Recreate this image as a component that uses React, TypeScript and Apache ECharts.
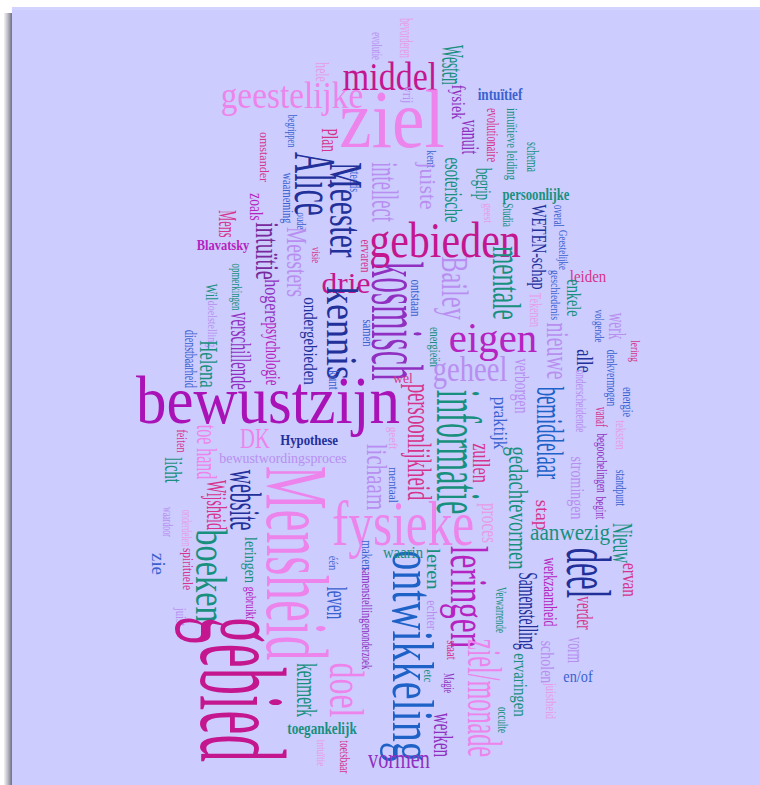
import React, { useEffect, useRef } from "react";
import * as echarts from "echarts";

// Each word: [text, x, y, length along text, font size, vertical(1) / horizontal(0), colour key]
const topWords: [string, number, number, number, number, number, string][] = [
  ["bevorderen", 406, 38, 40, 19, 1, "pinkLight"],
  ["evolutie", 377, 46, 28, 15, 1, "lilac"],
  ["Westen", 452, 65, 40, 31, 1, "teal"],
  ["hele", 323, 72, 19, 19, 1, "pinkLight"],
  ["middel", 390, 76, 94, 41, 0, "magenta"],
  ["ziel", 392, 120, 103, 82, 0, "pink"],
  ["geestelijke", 292, 95, 141, 38, 0, "pink"],
  ["vrij", 408, 95, 16, 15, 1, "lilac"],
  ["fysiek", 458, 102, 35, 19, 1, "purple"],
  ["vanuit", 471, 137, 35, 26, 1, "purple"],
  ["intuïtief", 500, 94, 45, 17, 0, "mblue"],
  ["evolutionaire", 492, 135, 54, 16, 1, "rose"],
  ["intuïtieve leiding", 512, 144, 72, 14, 1, "teal"],
  ["schema", 532, 157, 30, 16, 1, "teal"],
  ["begrip", 484, 184, 32, 24, 1, "teal"],
  ["persoonlijke", 536, 194, 67, 16, 0, "teal"],
  ["esoterische", 454, 190, 65, 25, 1, "teal"],
  ["kent", 431, 159, 18, 12, 1, "mblue"],
  ["juiste", 428, 186, 48, 23, 1, "lilac"],
  ["intellect", 385, 192, 60, 38, 1, "lilac"],
  ["steeds", 355, 180, 24, 15, 1, "mblue"],
  ["Plan", 330, 140, 24, 23, 1, "rose"],
  ["begrippen", 293, 131, 33, 13, 1, "mblue"],
  ["omstander", 264, 157, 50, 12, 1, "rose"],
];

const upperWords: [string, number, number, number, number, number, string][] = [
  ["Alice", 315, 184, 63, 60, 1, "navy"],
  ["Meester", 346, 210, 95, 47, 1, "navy"],
  ["waarneming", 288, 198, 51, 15, 1, "mblue"],
  ["oude", 302, 221, 17, 13, 1, "mblue"],
  ["visie", 316, 255, 16, 12, 1, "rose"],
  ["ervaren", 365, 256, 33, 14, 1, "rose"],
  ["intuïtie", 268, 251, 57, 34, 1, "dpurple"],
  ["hogere", 272, 301, 43, 22, 1, "purple"],
  ["psychologie", 273, 354, 63, 20, 1, "violet"],
  ["Meesters", 297, 262, 70, 29, 1, "lilac"],
  ["ondergebieden", 310, 341, 88, 19, 1, "navy"],
  ["kosmisch", 397, 321, 118, 75, 1, "purple"],
  ["gebieden", 445, 240, 150, 50, 0, "magenta"],
  ["Bailey", 454, 288, 63, 38, 1, "lilac"],
  ["mentale", 506, 283, 73, 40, 1, "teal"],
  ["WETEN-schap", 539, 247, 85, 22, 1, "navy"],
  ["geest", 489, 213, 20, 13, 1, "pinkLight"],
  ["Studia", 508, 215, 24, 14, 1, "teal"],
  ["overal", 558, 216, 22, 14, 1, "mblue"],
  ["Geestelijke", 564, 250, 40, 13, 1, "mblue"],
  ["geschiedenis", 556, 295, 50, 13, 1, "mblue"],
  ["leiden", 588, 276, 37, 17, 0, "rose"],
  ["enkele", 575, 298, 37, 22, 1, "teal"],
  ["volgende", 599, 326, 33, 12, 1, "mblue"],
  ["werk", 618, 326, 27, 25, 1, "lilac"],
  ["denkvermogen", 612, 378, 57, 15, 1, "mblue"],
  ["lering", 636, 351, 22, 13, 1, "rose"],
  ["alle", 585, 361, 23, 24, 1, "navy"],
  ["nieuwe", 558, 351, 57, 32, 1, "lilac"],
  ["Tekenen", 535, 310, 34, 16, 1, "pinkLight"],
  ["ontstaan", 415, 298, 37, 14, 1, "mblue"],
  ["energieën", 435, 347, 40, 14, 1, "teal"],
  ["eigen", 493, 338, 87, 43, 0, "violet"],
  ["geheel", 470, 369, 74, 36, 0, "lilac"],
  ["verborgen", 522, 386, 55, 22, 1, "lilac"],
  ["drie", 346, 283, 47, 29, 0, "magenta"],
  ["kennis", 342, 333, 93, 44, 1, "navy"],
  ["samen", 368, 333, 27, 14, 1, "mblue"],
  ["zoals", 256, 207, 27, 19, 1, "violet"],
  ["Mens", 228, 224, 27, 25, 1, "rose"],
  ["Blavatsky", 223, 245, 53, 15, 0, "violet"],
  ["opmerkingen", 236, 287, 47, 14, 1, "teal"],
  ["Wil", 211, 292, 17, 16, 1, "teal"],
  ["doelstelling", 212, 324, 47, 13, 1, "lilac"],
  ["dienstbaarheid", 190, 359, 58, 16, 1, "mblue"],
  ["Helena", 209, 364, 48, 26, 1, "teal"],
  ["verschillende", 240, 351, 77, 29, 1, "purple"],
];

const middleWords: [string, number, number, number, number, number, string][] = [
  ["bewustzijn", 268, 400, 263, 68, 0, "purpleMag"],
  ["kunt", 333, 380, 20, 14, 1, "mblue"],
  ["DK", 255, 438, 30, 30, 0, "pink"],
  ["Hypothese", 309, 440, 58, 15, 0, "navy"],
  ["toe hand", 207, 452, 55, 29, 1, "pink"],
  ["feiten", 182, 441, 23, 14, 1, "rose"],
  ["licht", 174, 470, 26, 26, 1, "teal"],
  ["bewustwordingsproces", 283, 458, 127, 14, 0, "lilac"],
  ["Wijsheid", 217, 505, 50, 30, 1, "rose"],
  ["website", 245, 500, 60, 44, 1, "navy"],
  ["waardoor", 168, 522, 30, 14, 1, "lilac"],
  ["onderdelen", 187, 528, 37, 15, 1, "pinkLight"],
  ["boeken", 212, 576, 93, 45, 1, "teal"],
  ["Mensheid", 297, 563, 193, 88, 1, "pink"],
  ["fysieke", 403, 524, 140, 63, 0, "pink"],
  ["lichaam", 377, 477, 67, 29, 1, "lilac"],
  ["persoonlijkheid", 419, 442, 117, 33, 1, "rose"],
  ["informatie", 458, 452, 123, 63, 1, "teal"],
  ["praktijk", 500, 423, 53, 19, 1, "mblue"],
  ["zullen", 481, 463, 40, 25, 1, "rose"],
  ["gedachtevormen", 518, 508, 123, 27, 1, "teal"],
  ["bemiddelaar", 550, 433, 93, 38, 1, "blue"],
  ["stap", 543, 515, 30, 19, 1, "rose"],
  ["proces", 490, 523, 40, 24, 1, "pinkLight"],
  ["aanwezig", 570, 532, 80, 24, 0, "teal"],
  ["Nieuw", 623, 543, 40, 29, 1, "teal"],
  ["stromingen", 577, 488, 63, 18, 1, "lilac"],
  ["begoochelingen", 602, 463, 60, 15, 1, "purple"],
  ["vanaf", 602, 417, 20, 17, 1, "rose"],
  ["onderscheidende", 581, 401, 63, 15, 1, "lilac"],
  ["energie", 628, 402, 30, 14, 1, "mblue"],
  ["teksten", 621, 435, 30, 15, 1, "pinkLight"],
  ["standpunt", 621, 488, 37, 15, 1, "mblue"],
  ["begint", 601, 508, 23, 15, 1, "purple"],
  ["wel", 403, 378, 20, 14, 0, "rose"],
  ["geeft", 393, 438, 23, 13, 1, "pinkLight"],
  ["mentaal", 393, 485, 36, 13, 1, "mblue"],
];

const lowerWords: [string, number, number, number, number, number, string][] = [
  ["ervan", 630, 580, 34, 20, 1, "rose"],
  ["werkzaamheid", 550, 592, 69, 18, 1, "violet"],
  ["deel", 588, 573, 49, 63, 1, "navy"],
  ["verder", 585, 613, 33, 23, 1, "rose"],
  ["vorm", 576, 650, 26, 24, 1, "lilac"],
  ["en/of", 578, 676, 30, 16, 0, "mblue"],
  ["scholen", 547, 662, 43, 19, 1, "lilac"],
  ["juistheid", 551, 701, 37, 14, 1, "pinkLight"],
  ["Samenstelling", 528, 611, 77, 27, 1, "navy"],
  ["ervaringen", 520, 685, 64, 19, 1, "teal"],
  ["occulte", 503, 720, 26, 15, 1, "teal"],
  ["Verwarrende", 501, 610, 46, 15, 1, "teal"],
  ["leringen", 469, 597, 102, 52, 1, "violet"],
  ["ziel/monade", 484, 698, 117, 48, 1, "pink"],
  ["ontwikkeling", 413, 656, 210, 59, 1, "blue"],
  ["leren", 434, 569, 42, 19, 1, "teal"],
  ["echter", 432, 615, 30, 14, 1, "lilac"],
  ["staat", 452, 650, 20, 15, 1, "rose"],
  ["etc", 428, 676, 13, 13, 1, "teal"],
  ["Magie", 449, 683, 20, 14, 1, "purple"],
  ["werken", 443, 735, 44, 28, 1, "purple"],
  ["vormen", 399, 758, 62, 28, 0, "purple"],
  ["toetsbaar", 345, 757, 33, 14, 1, "rose"],
  ["intuïtie", 322, 753, 27, 13, 1, "pinkLight"],
  ["toegankelijk", 322, 728, 70, 17, 0, "teal"],
  ["kenmerk", 307, 690, 54, 29, 1, "teal"],
  ["onderzoek", 367, 651, 37, 15, 1, "purple"],
  ["samenstellingen", 367, 600, 66, 14, 1, "purple"],
  ["leven", 337, 603, 33, 29, 1, "mblue"],
  ["één", 333, 563, 15, 13, 1, "mblue"],
  ["maken", 367, 555, 30, 15, 1, "mblue"],
  ["waarin", 403, 552, 40, 16, 0, "teal"],
  ["gebruikt", 251, 603, 33, 15, 1, "violet"],
  ["leringen", 250, 560, 46, 16, 1, "teal"],
  ["spirituele", 187, 569, 42, 14, 1, "rose"],
  ["zie", 158, 564, 22, 18, 1, "mblue"],
  ["juist", 181, 617, 20, 15, 1, "lilac"],
  ["gebied", 242, 689, 143, 122, 1, "magenta"],
  ["doel", 346, 690, 54, 48, 1, "pink"],
];

const boldWords = ["intuïtief", "persoonlijke", "Hypothese", "Blavatsky", "toegankelijk"];

const palette: Record<string, string> = {
  magenta: "#c4168f",
  purpleMag: "#a912b6",
  violet: "#b523c0",
  pink: "#ec84ec",
  pinkLight: "#e89be6",
  lilac: "#b88ff0",
  navy: "#22309a",
  blue: "#1e62c8",
  mblue: "#3a62cf",
  teal: "#18907d",
  rose: "#d6348c",
  purple: "#9030c0",
  dpurple: "#772a9c",
};

const FONT = '"Liberation Serif", "DejaVu Serif", serif';

let measureCtx: CanvasRenderingContext2D | null = null;
function inkWidth(text: string, size: number, weight: string): number {
  if (!measureCtx) measureCtx = document.createElement("canvas").getContext("2d");
  if (!measureCtx) return text.length * size * 0.5;
  measureCtx.font = `${weight} ${size}px ${FONT}`;
  const m = measureCtx.measureText(text);
  const ink = (m.actualBoundingBoxLeft || 0) + (m.actualBoundingBoxRight || 0);
  return ink > 0 ? ink : m.width;
}

export default function App() {
  const ref = useRef<HTMLDivElement>(null);

  useEffect(() => {
    if (!ref.current) return;
    const chart = echarts.init(ref.current, null, { renderer: "svg" });
    const allWords = [...topWords, ...upperWords, ...middleWords, ...lowerWords];

    chart.setOption({
      animation: false,
      backgroundColor: "transparent",
      grid: { left: 0, right: 0, top: 0, bottom: 0 },
      xAxis: { type: "value", min: 0, max: 760, show: false },
      yAxis: { type: "value", min: 0, max: 785, inverse: true, show: false },
      series: [
        {
          type: "custom",
          coordinateSystem: "cartesian2d",
          clip: false,
          silent: true,
          data: allWords.map((w) => [w[1], w[2], w[3], w[4]]),
          encode: { x: 0, y: 1 },
          renderItem: (params: any, api: any) => {
            const w = allWords[params.dataIndex];
            const text = w[0];
            const vertical = w[5] === 1;
            const p = api.coord([api.value(0), api.value(1)]);
            const sz = api.size([api.value(2), api.value(2)]);
            const lenPx = vertical ? sz[1] : sz[0];
            const fontSize = api.value(3);
            const weight = boldWords.includes(text) ? "bold" : "normal";
            const natural = inkWidth(text, fontSize, weight);
            const scale = lenPx / natural;
            return {
              type: "text",
              x: p[0],
              y: p[1],
              rotation: vertical ? -Math.PI / 2 : 0,
              scaleX: scale,
              scaleY: 1,
              style: {
                text,
                x: 0,
                y: 0,
                fill: palette[w[6]],
                fontSize,
                fontFamily: FONT,
                fontWeight: weight,
                align: "center",
                verticalAlign: "middle",
              },
            };
          },
        },
      ],
    });
    return () => chart.dispose();
  }, []);

  return (
    <div style={{ position: "fixed", left: 0, top: 0, width: 760, height: 785, background: "#ffffff", overflow: "hidden" }}>
      <div
        style={{
          position: "absolute",
          left: 4,
          top: 13,
          width: 8,
          bottom: 0,
          background: "linear-gradient(to right, #f4f4f6, #b8b8c4 50%, #6e6e80)",
        }}
      />
      <div style={{ position: "absolute", left: 12, top: 7, right: 0, bottom: 0, background: "#ccccff" }} />
      <div style={{ position: "absolute", left: 12, top: 7, right: 0, height: 3, background: "#d3d3ff" }} />
      <div ref={ref} style={{ position: "absolute", left: 0, top: 0, width: 760, height: 785 }} />
    </div>
  );
}
